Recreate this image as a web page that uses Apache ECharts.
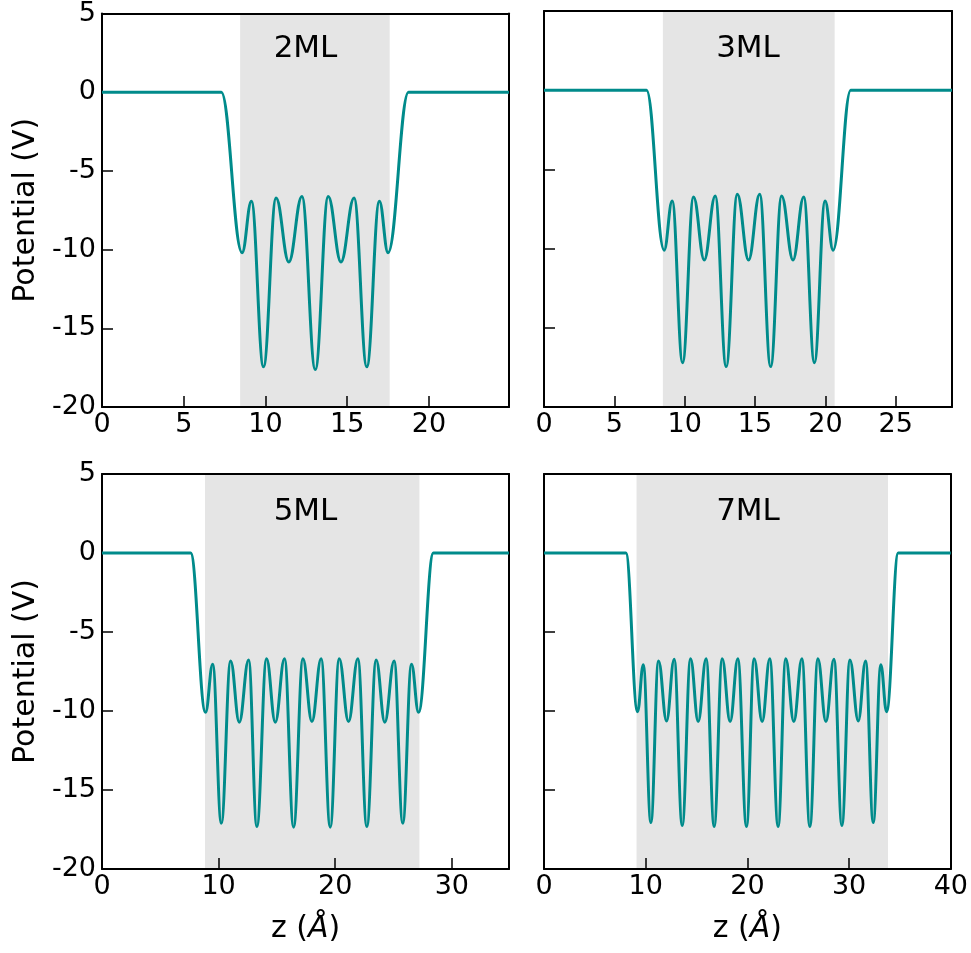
<!DOCTYPE html>
<html><head><meta charset="utf-8">
<script src="https://cdn.jsdelivr.net/npm/echarts@6/dist/echarts.min.js"></script>
<style>html,body{margin:0;padding:0;background:#fff}#c{width:971px;height:953px}</style>
</head><body><div id="c"></div>
<script>
// ---- data ----
const panelLabels = ['2ML', '3ML', '5ML', '7ML'];

const z2ML = [0, 7.3, 8.57, 9.14, 9.88, 10.65, 11.43, 12.23, 13.05, 13.84, 14.62, 15.42, 16.2, 16.97, 17.5, 18.75, 24.9];
const v2ML = [0, 0, -10.2, -6.93, -17.45, -6.72, -10.78, -6.62, -17.62, -6.62, -10.78, -6.72, -17.45, -6.93, -10.2, 0, 0];

const z3ML = [0, 7.29, 8.54, 9.11, 9.85, 10.63, 11.39, 12.17, 12.95, 13.74, 14.54, 15.33, 16.11, 16.89, 17.7, 18.46, 19.22, 19.98, 20.55, 21.8, 29];
const v3ML = [0, 0, -10.1, -6.99, -17.2, -6.74, -10.72, -6.68, -17.45, -6.57, -10.72, -6.57, -17.45, -6.68, -10.72, -6.74, -17.2, -6.99, -10.1, 0, 0];

const z5ML = [0, 7.6, 8.88, 9.49, 10.23, 11.03, 11.77, 12.57, 13.28, 14.11, 14.86, 15.65, 16.43, 17.23, 18.0, 18.79, 19.57, 20.34, 21.14, 21.94, 22.71, 23.51, 24.25, 25.05, 25.79, 26.54, 27.14, 28.42, 34.9];
const v5ML = [0, 0, -10.08, -7.04, -17.1, -6.83, -10.71, -6.77, -17.31, -6.7, -10.71, -6.7, -17.35, -6.7, -10.67, -6.7, -17.35, -6.7, -10.67, -6.7, -17.31, -6.77, -10.71, -6.83, -17.1, -7.04, -10.08, 0, 0];

const z7ML = [0, 8.05, 9.2, 9.76, 10.51, 11.26, 12.05, 12.8, 13.59, 14.41, 15.16, 15.94, 16.73, 17.52, 18.3, 19.06, 19.91, 20.66, 21.45, 22.2, 23.02, 23.77, 24.56, 25.36, 26.14, 26.93, 27.72, 28.51, 29.29, 30.08, 30.9, 31.62, 32.37, 33.12, 33.68, 34.83, 40];
const v7ML = [0, 0, -10.04, -7.08, -17.06, -6.83, -10.63, -6.73, -17.25, -6.7, -10.67, -6.7, -17.31, -6.7, -10.67, -6.7, -17.31, -6.7, -10.67, -6.7, -17.31, -6.7, -10.67, -6.7, -17.31, -6.7, -10.67, -6.73, -17.25, -6.77, -10.63, -6.83, -17.06, -7.08, -10.04, 0, 0];

const shade2ML = [8.45, 17.6];
const shade3ML = [8.45, 20.66];
const shade5ML = [8.83, 27.22];
const shade7ML = [9.1, 33.82];

const xMaxes = [24.9, 29, 34.9, 40];
const xIntervals = [5, 5, 10, 10];
const yMin = -20, yMax = 5, yInterval = 5;
const yName = 'Potential (V)';
const xName = 'z ({i|Å})';

// ---- layout / styling ----
const FONT = 'DejaVu Sans';
const zs = [z2ML, z3ML, z5ML, z7ML];
const vs = [v2ML, v3ML, v5ML, v7ML];
const shades = [shade2ML, shade3ML, shade5ML, shade7ML];
const grids = [
  {left: 102, top: 11, width: 407, height: 396},
  {left: 544, top: 11, width: 408, height: 396},
  {left: 102, top: 474, width: 407, height: 395},
  {left: 544, top: 474, width: 408, height: 395}
];
const axLine = {show: true, onZero: false, lineStyle: {color: '#000', width: 2}};
const tick = {show: true, inside: true, length: 11, lineStyle: {color: '#000', width: 1.5}};
const lblStyle = {color: '#000', fontFamily: FONT, fontSize: 27};

const xAxes = [], yAxes = [], series = [], graphics = [];
grids.forEach((g, i) => {
  const isLeft = (i % 2 === 0), isBottom = (i >= 2);
  xAxes.push({
    gridIndex: i, type: 'value', min: 0, max: xMaxes[i], interval: xIntervals[i], position: 'bottom', z: 2,
    axisLine: axLine, axisTick: tick, splitLine: {show: false},
    axisLabel: Object.assign({margin: 4, showMaxLabel: xMaxes[i] % xIntervals[i] === 0}, lblStyle),
    name: isBottom ? xName : '', nameLocation: 'middle', nameGap: 45,
    nameTextStyle: {color: '#000', fontFamily: FONT, fontSize: 30, rich: {i: {fontStyle: 'italic', fontFamily: FONT, fontSize: 30, color: '#000'}}}
  });
  xAxes.push({
    gridIndex: i, type: 'value', min: 0, max: xMaxes[i], position: 'top', z: 2,
    axisLine: axLine, axisTick: {show: false}, axisLabel: {show: false}, splitLine: {show: false}
  });
  yAxes.push({
    gridIndex: i, type: 'value', min: yMin, max: yMax, interval: yInterval, position: 'left', z: 2,
    axisLine: axLine, axisTick: tick, splitLine: {show: false},
    axisLabel: Object.assign({show: isLeft, margin: 6}, lblStyle),
    name: isLeft ? yName : '', nameLocation: 'middle', nameGap: 61,
    nameTextStyle: {color: '#000', fontFamily: FONT, fontSize: 30}
  });
  yAxes.push({
    gridIndex: i, type: 'value', min: yMin, max: yMax, position: 'right', z: 2,
    axisLine: axLine, axisTick: {show: false}, axisLabel: {show: false}, splitLine: {show: false}
  });
  series.push({
    type: 'line', xAxisIndex: i * 2, yAxisIndex: i * 2, data: [], z: 1, silent: true,
    markArea: {silent: true, itemStyle: {color: '#e5e5e5'}, data: [[{xAxis: shades[i][0]}, {xAxis: shades[i][1]}]]}
  });
  series.push({
    type: 'line', xAxisIndex: i * 2, yAxisIndex: i * 2, z: 3,
    data: zs[i].map((x, j) => [x, vs[i][j]]),
    showSymbol: false, smooth: 0.4, smoothMonotone: 'x',
    lineStyle: {color: '#008b8b', width: 3}, itemStyle: {color: '#008b8b'}
  });
  graphics.push({
    type: 'text', z: 20, x: g.left + g.width / 2, y: g.top + 38,
    style: {text: panelLabels[i], fill: '#000', font: '31px "' + FONT + '"', textAlign: 'center', textVerticalAlign: 'middle'}
  });
});

const chart = echarts.init(document.getElementById('c'), null, {renderer: 'canvas'});
chart.setOption({
  animation: false,
  backgroundColor: '#fff',
  grid: grids,
  xAxis: xAxes,
  yAxis: yAxes,
  series: series,
  graphic: graphics
});
</script></body></html>
